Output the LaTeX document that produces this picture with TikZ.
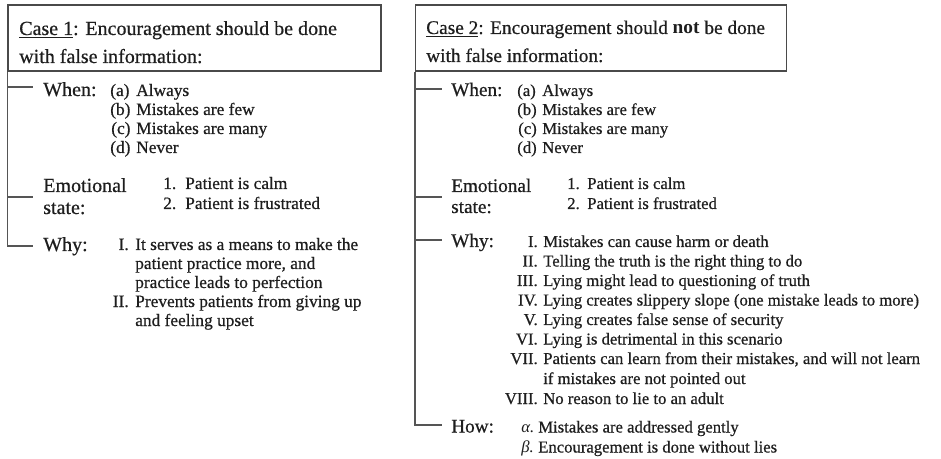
\documentclass[tikz,border=0pt]{standalone}
\usepackage{fontspec}
\setmainfont{Liberation Serif}[UprightFeatures={FakeBold=0.6}]
\definecolor{ink}{HTML}{1E1E1E}
\definecolor{linec}{HTML}{555555}
\definecolor{boxc}{HTML}{4A4A4A}
\tikzset{
  hdA/.style={anchor=base west, inner sep=0pt, text=ink, font=\fontsize{15}{18}\selectfont},
  hdB/.style={anchor=base west, inner sep=0pt, text=ink, font=\fontsize{14.5}{18}\selectfont},
  labA/.style={anchor=base west, inner sep=0pt, text=ink, font=\fontsize{15}{18}\selectfont},
  labB/.style={anchor=base west, inner sep=0pt, text=ink, font=\fontsize{14.4}{18}\selectfont},
  itA/.style={anchor=base west, inner sep=0pt, text=ink, font=\fontsize{13}{16}\selectfont},
  itB/.style={anchor=base west, inner sep=0pt, text=ink, font=\fontsize{12.5}{15}\selectfont},
  numA/.style={itA, anchor=base east},
  numB/.style={itB, anchor=base east},
  casebox/.style={draw=boxc, line width=1.1pt, rectangle, inner sep=0pt},
  tree/.style={draw=linec, line width=1pt},
}
\begin{document}
\begin{tikzpicture}[x=0.75pt,y=-0.75pt]
\useasboundingbox (0,0) rectangle (941,459);

% ---------------- Case 1 ----------------
\node[casebox, minimum width=279.75pt, minimum height=49.5pt] (box1) at (194.5,38) {};
\node[hdA] (h1a) at (19,35) {\underline{Case 1}: Encouragement should be done};
\node[hdA] (h1b) at (19,63) {with false information:};

\node[labA] (whenA) at (43,96) {When:};
\node[itA] (aA) at (110,96) {(a)};
\node[itA] (aAt) at (136,96) {Always};
\node[itA] (bA) at (110,115) {(b)};
\node[itA] (bAt) at (136,115) {Mistakes are few};
\node[itA] (cA) at (111,134) {(c)};
\node[itA] (cAt) at (136,134) {Mistakes are many};
\node[itA] (dA) at (110,153) {(d)};
\node[itA] (dAt) at (136,153) {Never};

\node[labA] (emoA) at (43,192) {Emotional};
\node[labA] (stA) at (43,214) {state:};
\node[itA] (e1A) at (163,189) {1.};
\node[itA] (e1At) at (185,189) {Patient is calm};
\node[itA] (e2A) at (163,209) {2.};
\node[itA] (e2At) at (185,209) {Patient is frustrated};

\node[labA] (whyA) at (43,251) {Why:};
\node[numA] (w1A) at (129,250) {I.};
\node[itA] (w1At) at (135,250) {It serves as a means to make the};
\node[itA] (w1Bt) at (135,269) {patient practice more, and};
\node[itA] (w1Ct) at (135,288) {practice leads to perfection};
\node[numA] (w2A) at (129,307) {II.};
\node[itA] (w2At) at (135,307) {Prevents patients from giving up};
\node[itA] (w2Bt) at (135,326) {and feeling upset};

\coordinate (tA1) at (33,87);
\coordinate (tA2) at (33,197);
\coordinate (tA3) at (33,246);
\draw[tree] (box1.south west) -- (box1.south west |- tA3) -- (tA3);
\draw[tree] (box1.south west |- tA1) -- (tA1);
\draw[tree] (box1.south west |- tA2) -- (tA2);

% ---------------- Case 2 ----------------
\node[casebox, minimum width=278.25pt, minimum height=49.5pt] (box2) at (601.25,38) {};
\node[hdB] (h2a) at (426,34) {\underline{Case 2}: Encouragement should \textbf{not} be done};
\node[hdB] (h2b) at (426,62) {with false information:};

\node[labB] (whenB) at (451,96) {When:};
\node[itB] (aB) at (517,96) {(a)};
\node[itB] (aBt) at (542,96) {Always};
\node[itB] (bB) at (517,115) {(b)};
\node[itB] (bBt) at (542,115) {Mistakes are few};
\node[itB] (cB) at (518,134) {(c)};
\node[itB] (cBt) at (542,134) {Mistakes are many};
\node[itB] (dB) at (517,153) {(d)};
\node[itB] (dBt) at (542,153) {Never};

\node[labB] (emoB) at (451,192) {Emotional};
\node[labB] (stB) at (451,213) {state:};
\node[itB] (e1B) at (567,189) {1.};
\node[itB] (e1Bt) at (587,189) {Patient is calm};
\node[itB] (e2B) at (567,209) {2.};
\node[itB] (e2Bt) at (587,209) {Patient is frustrated};

\node[labB] (whyB) at (451,247) {Why:};
\node[numB] (r1) at (538,247) {I.};
\node[itB] (r1t) at (543,247) {Mistakes can cause harm or death};
\node[numB] (r2) at (538,266.5) {II.};
\node[itB] (r2t) at (543,266.5) {Telling the truth is the right thing to do};
\node[numB] (r3) at (538,286) {III.};
\node[itB] (r3t) at (543,286) {Lying might lead to questioning of truth};
\node[numB] (r4) at (538,305.5) {IV.};
\node[itB] (r4t) at (543,305.5) {Lying creates slippery slope (one mistake leads to more)};
\node[numB] (r5) at (538,325) {V.};
\node[itB] (r5t) at (543,325) {Lying creates false sense of security};
\node[numB] (r6) at (538,344.5) {VI.};
\node[itB] (r6t) at (543,344.5) {Lying is detrimental in this scenario};
\node[numB] (r7) at (538,364) {VII.};
\node[itB] (r7t) at (543,364) {Patients can learn from their mistakes, and will not learn};
\node[itB] (r7u) at (543,384) {if mistakes are not pointed out};
\node[numB] (r8) at (538,404) {VIII.};
\node[itB] (r8t) at (543,404) {No reason to lie to an adult};

\node[labB] (howB) at (451,432.5) {How:};
\node[itB] (al) at (521,432.5) {\itshape α.};
\node[itB] (alt) at (538,432.5) {Mistakes are addressed gently};
\node[itB] (be) at (521,452.5) {\itshape β.};
\node[itB] (bet) at (538,452.5) {Encouragement is done without lies};

\coordinate (tB1) at (442,89);
\coordinate (tB2) at (442,197);
\coordinate (tB3) at (442,240);
\coordinate (tB4) at (442,425);
\draw[tree] (box2.south west) -- (box2.south west |- tB4) -- (tB4);
\draw[tree] (box2.south west |- tB1) -- (tB1);
\draw[tree] (box2.south west |- tB2) -- (tB2);
\draw[tree] (box2.south west |- tB3) -- (tB3);
\end{tikzpicture}
\end{document}
